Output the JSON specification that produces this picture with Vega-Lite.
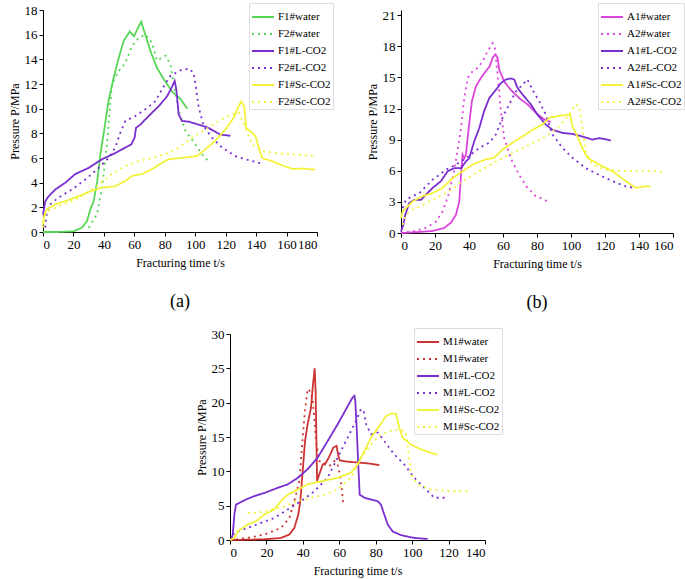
{
  "$schema": "https://vega.github.io/schema/vega-lite/v6.json",
  "padding": {"left": 8, "top": 2, "right": 4, "bottom": 5},
  "background": "white",
  "config": {
    "font": "Liberation Serif, Times New Roman, serif",
    "view": {"stroke": null},
    "axis": {"grid": false, "domainColor": "black", "tickColor": "black", "labelColor": "black", "titleColor": "black", "labelFont": "Liberation Serif, Times New Roman, serif", "titleFont": "Liberation Serif, Times New Roman, serif", "labelFontSize": 13, "titleFontSize": 12, "titleFontWeight": "normal", "tickSize": 4, "labelPadding": 2, "domainWidth": 1, "labelOverlap": false},
    "axisX": {"titlePadding": 6},
    "axisY": {"titlePadding": 3},
    "legend": {"symbolType": "stroke", "symbolSize": 484, "symbolStrokeWidth": 2, "labelFont": "Liberation Serif, Times New Roman, serif", "labelFontSize": 11, "labelColor": "black", "strokeColor": "#dddddd", "padding": 2, "rowPadding": -5, "labelOffset": 3},
    "title": {"font": "Liberation Serif, Times New Roman, serif", "fontSize": 18, "fontWeight": "normal", "color": "black", "orient": "bottom", "offset": 25, "frame": "group"},
    "line": {"strokeWidth": 1.8, "strokeCap": "butt"}
  },
  "datasets": {
    "a": [
      {"s":"F1#water","t":0,"p":0},{"s":"F1#water","t":10,"p":0},{"s":"F1#water","t":20,"p":0.05},{"s":"F1#water","t":25.6,"p":0.35},{"s":"F1#water","t":29,"p":0.9},{"s":"F1#water","t":31,"p":1.8},{"s":"F1#water","t":33.3,"p":2.5},{"s":"F1#water","t":35.6,"p":4.1},{"s":"F1#water","t":37.7,"p":6.3},{"s":"F1#water","t":40.5,"p":8.5},{"s":"F1#water","t":43,"p":10.6},{"s":"F1#water","t":46.4,"p":12.5},{"s":"F1#water","t":49.7,"p":14.1},{"s":"F1#water","t":53,"p":15.5},{"s":"F1#water","t":57,"p":16.25},{"s":"F1#water","t":59.8,"p":15.87},{"s":"F1#water","t":61.8,"p":16.4},{"s":"F1#water","t":64.5,"p":17.05},{"s":"F1#water","t":67.2,"p":16.0},{"s":"F1#water","t":70.5,"p":14.7},{"s":"F1#water","t":74.9,"p":13.3},{"s":"F1#water","t":79.3,"p":12.4},{"s":"F1#water","t":84.7,"p":11.4},{"s":"F1#water","t":90.2,"p":10.8},{"s":"F1#water","t":94.8,"p":10.0},
      {"s":"F2#water","t":30,"p":0.35},{"s":"F2#water","t":35.5,"p":1.45},{"s":"F2#water","t":38.8,"p":3.6},{"s":"F2#water","t":42,"p":7.1},{"s":"F2#water","t":45.3,"p":12.0},{"s":"F2#water","t":49.7,"p":13.05},{"s":"F2#water","t":54.1,"p":13.7},{"s":"F2#water","t":58.5,"p":15.1},{"s":"F2#water","t":62.9,"p":15.75},{"s":"F2#water","t":67.3,"p":16.0},{"s":"F2#water","t":71.6,"p":15.35},{"s":"F2#water","t":74.9,"p":13.9},{"s":"F2#water","t":80.4,"p":14.3},{"s":"F2#water","t":83.7,"p":13.6},{"s":"F2#water","t":85.9,"p":12.0},{"s":"F2#water","t":89.2,"p":9.8},{"s":"F2#water","t":93.6,"p":8.2},{"s":"F2#water","t":100.1,"p":7.1},{"s":"F2#water","t":104.5,"p":6.3},{"s":"F2#water","t":108.9,"p":5.7},
      {"s":"F1#L-CO2","t":0,"p":1.4},{"s":"F1#L-CO2","t":1.5,"p":2.5},{"s":"F1#L-CO2","t":3.7,"p":2.9},{"s":"F1#L-CO2","t":8.1,"p":3.45},{"s":"F1#L-CO2","t":14.7,"p":4.0},{"s":"F1#L-CO2","t":21.2,"p":4.7},{"s":"F1#L-CO2","t":30,"p":5.2},{"s":"F1#L-CO2","t":38.8,"p":5.9},{"s":"F1#L-CO2","t":47.5,"p":6.4},{"s":"F1#L-CO2","t":54.1,"p":6.85},{"s":"F1#L-CO2","t":58,"p":7.1},{"s":"F1#L-CO2","t":60.2,"p":7.65},{"s":"F1#L-CO2","t":61.1,"p":8.45},{"s":"F1#L-CO2","t":63.9,"p":8.7},{"s":"F1#L-CO2","t":69.4,"p":9.4},{"s":"F1#L-CO2","t":76,"p":10.2},{"s":"F1#L-CO2","t":81.5,"p":11.0},{"s":"F1#L-CO2","t":84.7,"p":11.75},{"s":"F1#L-CO2","t":86.5,"p":12.25},{"s":"F1#L-CO2","t":87.6,"p":11.55},{"s":"F1#L-CO2","t":89.1,"p":9.55},{"s":"F1#L-CO2","t":91.3,"p":9.0},{"s":"F1#L-CO2","t":95.7,"p":8.95},{"s":"F1#L-CO2","t":102.3,"p":8.7},{"s":"F1#L-CO2","t":107.7,"p":8.5},{"s":"F1#L-CO2","t":112.1,"p":8.2},{"s":"F1#L-CO2","t":116.5,"p":7.9},{"s":"F1#L-CO2","t":123.1,"p":7.8},
      {"s":"F2#L-CO2","t":1.5,"p":0.35},{"s":"F2#L-CO2","t":2.6,"p":1.7},{"s":"F2#L-CO2","t":4.8,"p":2.25},{"s":"F2#L-CO2","t":10.3,"p":2.8},{"s":"F2#L-CO2","t":19,"p":3.45},{"s":"F2#L-CO2","t":27.8,"p":4.25},{"s":"F2#L-CO2","t":36.6,"p":5.2},{"s":"F2#L-CO2","t":43.1,"p":6.0},{"s":"F2#L-CO2","t":47.5,"p":6.85},{"s":"F2#L-CO2","t":50.8,"p":8.05},{"s":"F2#L-CO2","t":54.1,"p":9.0},{"s":"F2#L-CO2","t":60.7,"p":9.4},{"s":"F2#L-CO2","t":67.2,"p":9.95},{"s":"F2#L-CO2","t":73.8,"p":10.6},{"s":"F2#L-CO2","t":79.3,"p":11.8},{"s":"F2#L-CO2","t":83.6,"p":12.65},{"s":"F2#L-CO2","t":90.2,"p":13.1},{"s":"F2#L-CO2","t":95.7,"p":13.25},{"s":"F2#L-CO2","t":99,"p":12.9},{"s":"F2#L-CO2","t":100.5,"p":11.7},{"s":"F2#L-CO2","t":102.3,"p":10.1},{"s":"F2#L-CO2","t":105.5,"p":8.6},{"s":"F2#L-CO2","t":111,"p":7.65},{"s":"F2#L-CO2","t":117.6,"p":6.85},{"s":"F2#L-CO2","t":126.3,"p":6.15},{"s":"F2#L-CO2","t":137.3,"p":5.75},{"s":"F2#L-CO2","t":143.9,"p":5.55},
      {"s":"F1#Sc-CO2","t":0,"p":0.6},{"s":"F1#Sc-CO2","t":0.9,"p":1.4},{"s":"F1#Sc-CO2","t":2.6,"p":1.85},{"s":"F1#Sc-CO2","t":8.1,"p":2.25},{"s":"F1#Sc-CO2","t":14.7,"p":2.5},{"s":"F1#Sc-CO2","t":23.4,"p":2.9},{"s":"F1#Sc-CO2","t":31.1,"p":3.3},{"s":"F1#Sc-CO2","t":38.8,"p":3.6},{"s":"F1#Sc-CO2","t":47.5,"p":3.7},{"s":"F1#Sc-CO2","t":54.1,"p":4.15},{"s":"F1#Sc-CO2","t":58.5,"p":4.55},{"s":"F1#Sc-CO2","t":65,"p":4.7},{"s":"F1#Sc-CO2","t":71.6,"p":5.1},{"s":"F1#Sc-CO2","t":78.2,"p":5.6},{"s":"F1#Sc-CO2","t":82.5,"p":5.9},{"s":"F1#Sc-CO2","t":90.2,"p":6.0},{"s":"F1#Sc-CO2","t":101.2,"p":6.15},{"s":"F1#Sc-CO2","t":106.6,"p":6.7},{"s":"F1#Sc-CO2","t":113.2,"p":7.4},{"s":"F1#Sc-CO2","t":119.8,"p":8.3},{"s":"F1#Sc-CO2","t":125.2,"p":9.25},{"s":"F1#Sc-CO2","t":128.5,"p":10.2},{"s":"F1#Sc-CO2","t":130.3,"p":10.6},{"s":"F1#Sc-CO2","t":132.3,"p":10.15},{"s":"F1#Sc-CO2","t":133.4,"p":8.45},{"s":"F1#Sc-CO2","t":137.3,"p":8.05},{"s":"F1#Sc-CO2","t":139.5,"p":7.8},{"s":"F1#Sc-CO2","t":141.7,"p":6.85},{"s":"F1#Sc-CO2","t":143.9,"p":6.0},{"s":"F1#Sc-CO2","t":150.4,"p":5.75},{"s":"F1#Sc-CO2","t":158.1,"p":5.35},{"s":"F1#Sc-CO2","t":164.7,"p":5.1},{"s":"F1#Sc-CO2","t":170.1,"p":5.15},{"s":"F1#Sc-CO2","t":178.9,"p":5.05},
      {"s":"F2#Sc-CO2","t":0,"p":0.35},{"s":"F2#Sc-CO2","t":1.5,"p":1.4},{"s":"F2#Sc-CO2","t":3.7,"p":1.7},{"s":"F2#Sc-CO2","t":10.3,"p":2.1},{"s":"F2#Sc-CO2","t":19,"p":2.5},{"s":"F2#Sc-CO2","t":27.8,"p":3.05},{"s":"F2#Sc-CO2","t":36.6,"p":3.85},{"s":"F2#Sc-CO2","t":45.3,"p":4.7},{"s":"F2#Sc-CO2","t":54.1,"p":5.35},{"s":"F2#Sc-CO2","t":62.8,"p":5.75},{"s":"F2#Sc-CO2","t":71.6,"p":6.0},{"s":"F2#Sc-CO2","t":80.4,"p":6.3},{"s":"F2#Sc-CO2","t":89.1,"p":6.85},{"s":"F2#Sc-CO2","t":97.9,"p":7.65},{"s":"F2#Sc-CO2","t":106.6,"p":8.3},{"s":"F2#Sc-CO2","t":115.4,"p":9.0},{"s":"F2#Sc-CO2","t":124.2,"p":9.55},{"s":"F2#Sc-CO2","t":128.5,"p":9.7},{"s":"F2#Sc-CO2","t":132.9,"p":8.45},{"s":"F2#Sc-CO2","t":137.3,"p":7.1},{"s":"F2#Sc-CO2","t":143.9,"p":6.55},{"s":"F2#Sc-CO2","t":152.6,"p":6.4},{"s":"F2#Sc-CO2","t":163.6,"p":6.3},{"s":"F2#Sc-CO2","t":180,"p":6.15}
    ],
    "b": [
      {"s":"A1#water","t":0,"p":0},{"s":"A1#water","t":10.8,"p":0.1},{"s":"A1#water","t":18.6,"p":0.2},{"s":"A1#water","t":25.5,"p":0.5},{"s":"A1#water","t":29.4,"p":1.0},{"s":"A1#water","t":32.3,"p":1.75},{"s":"A1#water","t":34.3,"p":3.05},{"s":"A1#water","t":35.3,"p":5.6},{"s":"A1#water","t":36.2,"p":7.55},{"s":"A1#water","t":37.2,"p":7.2},{"s":"A1#water","t":38.2,"p":7.55},{"s":"A1#water","t":39.8,"p":10.1},{"s":"A1#water","t":41.7,"p":12.7},{"s":"A1#water","t":44.1,"p":14.15},{"s":"A1#water","t":47,"p":14.95},{"s":"A1#water","t":49.9,"p":15.6},{"s":"A1#water","t":52.3,"p":16.1},{"s":"A1#water","t":53.9,"p":16.9},{"s":"A1#water","t":55.4,"p":17.2},{"s":"A1#water","t":56.8,"p":16.9},{"s":"A1#water","t":57.8,"p":15.75},{"s":"A1#water","t":60.7,"p":14.6},{"s":"A1#water","t":64.6,"p":13.8},{"s":"A1#water","t":69.5,"p":13.0},{"s":"A1#water","t":74.4,"p":12.4},{"s":"A1#water","t":79.3,"p":11.6},{"s":"A1#water","t":84.2,"p":10.95},{"s":"A1#water","t":88,"p":10.7},
      {"s":"A2#water","t":0,"p":0},{"s":"A2#water","t":6.9,"p":0.15},{"s":"A2#water","t":14.7,"p":0.5},{"s":"A2#water","t":20.6,"p":1.1},{"s":"A2#water","t":24.5,"p":2.1},{"s":"A2#water","t":27.4,"p":3.4},{"s":"A2#water","t":30.4,"p":5.3},{"s":"A2#water","t":33.3,"p":7.9},{"s":"A2#water","t":35.3,"p":10.1},{"s":"A2#water","t":37.2,"p":13.0},{"s":"A2#water","t":39.2,"p":14.95},{"s":"A2#water","t":42.1,"p":15.6},{"s":"A2#water","t":45,"p":15.9},{"s":"A2#water","t":48,"p":16.55},{"s":"A2#water","t":50.9,"p":17.5},{"s":"A2#water","t":53.9,"p":18.3},{"s":"A2#water","t":55.2,"p":17.85},{"s":"A2#water","t":56.8,"p":15.3},{"s":"A2#water","t":58.8,"p":11.7},{"s":"A2#water","t":60.7,"p":9.15},{"s":"A2#water","t":64.6,"p":7.2},{"s":"A2#water","t":69.5,"p":5.6},{"s":"A2#water","t":74.4,"p":4.35},{"s":"A2#water","t":79.3,"p":3.55},{"s":"A2#water","t":83.2,"p":3.3},{"s":"A2#water","t":87.2,"p":2.95},
      {"s":"A1#L-CO2","t":0,"p":0.15},{"s":"A1#L-CO2","t":1.4,"p":0.8},{"s":"A1#L-CO2","t":2.5,"p":1.75},{"s":"A1#L-CO2","t":4.9,"p":2.9},{"s":"A1#L-CO2","t":7.8,"p":3.2},{"s":"A1#L-CO2","t":11.8,"p":3.2},{"s":"A1#L-CO2","t":14.7,"p":3.7},{"s":"A1#L-CO2","t":18.6,"p":4.35},{"s":"A1#L-CO2","t":23.5,"p":5.0},{"s":"A1#L-CO2","t":27.4,"p":5.95},{"s":"A1#L-CO2","t":31.3,"p":6.25},{"s":"A1#L-CO2","t":35.3,"p":6.25},{"s":"A1#L-CO2","t":38.2,"p":6.9},{"s":"A1#L-CO2","t":40.1,"p":7.2},{"s":"A1#L-CO2","t":43.1,"p":8.85},{"s":"A1#L-CO2","t":46,"p":10.1},{"s":"A1#L-CO2","t":48.9,"p":11.75},{"s":"A1#L-CO2","t":51.9,"p":13.0},{"s":"A1#L-CO2","t":55.8,"p":13.8},{"s":"A1#L-CO2","t":58.8,"p":14.45},{"s":"A1#L-CO2","t":61.7,"p":14.8},{"s":"A1#L-CO2","t":64.6,"p":14.9},{"s":"A1#L-CO2","t":66.6,"p":14.8},{"s":"A1#L-CO2","t":68.5,"p":14.0},{"s":"A1#L-CO2","t":71.5,"p":13.35},{"s":"A1#L-CO2","t":76.4,"p":12.4},{"s":"A1#L-CO2","t":80.3,"p":11.4},{"s":"A1#L-CO2","t":85.2,"p":10.45},{"s":"A1#L-CO2","t":89.1,"p":9.95},{"s":"A1#L-CO2","t":95,"p":9.65},{"s":"A1#L-CO2","t":100.9,"p":9.55},{"s":"A1#L-CO2","t":106.7,"p":9.3},{"s":"A1#L-CO2","t":112.6,"p":9.0},{"s":"A1#L-CO2","t":116.5,"p":9.15},{"s":"A1#L-CO2","t":121.4,"p":9.0},{"s":"A1#L-CO2","t":123.4,"p":8.9},
      {"s":"A2#L-CO2","t":1,"p":2.4},{"s":"A2#L-CO2","t":2.9,"p":3.2},{"s":"A2#L-CO2","t":6.9,"p":3.55},{"s":"A2#L-CO2","t":10.8,"p":3.85},{"s":"A2#L-CO2","t":14.7,"p":4.5},{"s":"A2#L-CO2","t":18.6,"p":5.15},{"s":"A2#L-CO2","t":22.5,"p":5.6},{"s":"A2#L-CO2","t":26.4,"p":6.1},{"s":"A2#L-CO2","t":32.3,"p":6.6},{"s":"A2#L-CO2","t":38.2,"p":7.2},{"s":"A2#L-CO2","t":46,"p":8.2},{"s":"A2#L-CO2","t":51.9,"p":8.7},{"s":"A2#L-CO2","t":55.8,"p":9.5},{"s":"A2#L-CO2","t":59.7,"p":11.1},{"s":"A2#L-CO2","t":63.6,"p":12.4},{"s":"A2#L-CO2","t":67.6,"p":13.65},{"s":"A2#L-CO2","t":71.5,"p":14.3},{"s":"A2#L-CO2","t":74.4,"p":14.8},{"s":"A2#L-CO2","t":77.4,"p":13.8},{"s":"A2#L-CO2","t":81.3,"p":12.7},{"s":"A2#L-CO2","t":85.2,"p":11.4},{"s":"A2#L-CO2","t":89.1,"p":9.5},{"s":"A2#L-CO2","t":95,"p":8.2},{"s":"A2#L-CO2","t":100.9,"p":7.25},{"s":"A2#L-CO2","t":108.7,"p":6.25},{"s":"A2#L-CO2","t":116.5,"p":5.6},{"s":"A2#L-CO2","t":124.4,"p":5.0},{"s":"A2#L-CO2","t":132.2,"p":4.5},{"s":"A2#L-CO2","t":137.1,"p":4.35},
      {"s":"A1#Sc-CO2","t":0,"p":1.45},{"s":"A1#Sc-CO2","t":1,"p":2.1},{"s":"A1#Sc-CO2","t":2.9,"p":2.4},{"s":"A1#Sc-CO2","t":6.9,"p":3.05},{"s":"A1#Sc-CO2","t":12.7,"p":3.55},{"s":"A1#Sc-CO2","t":18.6,"p":3.85},{"s":"A1#Sc-CO2","t":24.5,"p":4.35},{"s":"A1#Sc-CO2","t":30.4,"p":5.3},{"s":"A1#Sc-CO2","t":36.2,"p":5.95},{"s":"A1#Sc-CO2","t":42.1,"p":6.6},{"s":"A1#Sc-CO2","t":49.9,"p":7.1},{"s":"A1#Sc-CO2","t":54.8,"p":7.25},{"s":"A1#Sc-CO2","t":59.7,"p":8.05},{"s":"A1#Sc-CO2","t":65.6,"p":8.7},{"s":"A1#Sc-CO2","t":71.5,"p":9.3},{"s":"A1#Sc-CO2","t":77.4,"p":9.95},{"s":"A1#Sc-CO2","t":83.2,"p":10.45},{"s":"A1#Sc-CO2","t":87.2,"p":11.1},{"s":"A1#Sc-CO2","t":91.1,"p":11.25},{"s":"A1#Sc-CO2","t":96,"p":11.35},{"s":"A1#Sc-CO2","t":99.5,"p":11.4},{"s":"A1#Sc-CO2","t":100.9,"p":10.3},{"s":"A1#Sc-CO2","t":103.8,"p":9.3},{"s":"A1#Sc-CO2","t":106.7,"p":8.2},{"s":"A1#Sc-CO2","t":109.7,"p":7.25},{"s":"A1#Sc-CO2","t":116.5,"p":6.6},{"s":"A1#Sc-CO2","t":124.4,"p":5.95},{"s":"A1#Sc-CO2","t":132.2,"p":5.0},{"s":"A1#Sc-CO2","t":138.1,"p":4.35},{"s":"A1#Sc-CO2","t":143.9,"p":4.5},{"s":"A1#Sc-CO2","t":146.9,"p":4.5},
      {"s":"A2#Sc-CO2","t":1,"p":0.8},{"s":"A2#Sc-CO2","t":2.9,"p":1.75},{"s":"A2#Sc-CO2","t":6.9,"p":2.25},{"s":"A2#Sc-CO2","t":12.7,"p":2.7},{"s":"A2#Sc-CO2","t":20.6,"p":3.35},{"s":"A2#Sc-CO2","t":28.4,"p":4.0},{"s":"A2#Sc-CO2","t":36.2,"p":5.0},{"s":"A2#Sc-CO2","t":46,"p":5.95},{"s":"A2#Sc-CO2","t":55.8,"p":6.9},{"s":"A2#Sc-CO2","t":65.6,"p":7.7},{"s":"A2#Sc-CO2","t":75.4,"p":8.5},{"s":"A2#Sc-CO2","t":85.2,"p":9.3},{"s":"A2#Sc-CO2","t":93,"p":10.3},{"s":"A2#Sc-CO2","t":98.9,"p":11.4},{"s":"A2#Sc-CO2","t":102.8,"p":12.4},{"s":"A2#Sc-CO2","t":104.8,"p":12.2},{"s":"A2#Sc-CO2","t":106.7,"p":10.1},{"s":"A2#Sc-CO2","t":108.7,"p":7.9},{"s":"A2#Sc-CO2","t":112.6,"p":6.6},{"s":"A2#Sc-CO2","t":120.4,"p":6.1},{"s":"A2#Sc-CO2","t":130.2,"p":5.95},{"s":"A2#Sc-CO2","t":140,"p":6.0},{"s":"A2#Sc-CO2","t":149.8,"p":5.95},{"s":"A2#Sc-CO2","t":154.7,"p":5.8}
    ],
    "c": [
      {"s":"M1#water|1","t":0,"p":0},{"s":"M1#water|1","t":18.9,"p":0.1},{"s":"M1#water|1","t":28,"p":0.3},{"s":"M1#water|1","t":32.6,"p":0.8},{"s":"M1#water|1","t":35.3,"p":1.75},{"s":"M1#water|1","t":37.5,"p":3.7},{"s":"M1#water|1","t":38.6,"p":5.65},{"s":"M1#water|1","t":39.9,"p":10.0},{"s":"M1#water|1","t":41.2,"p":14.4},{"s":"M1#water|1","t":42.6,"p":16.85},{"s":"M1#water|1","t":44.5,"p":19.3},{"s":"M1#water|1","t":45.4,"p":22.2},{"s":"M1#water|1","t":46.5,"p":25.0},{"s":"M1#water|1","t":47.0,"p":21.7},{"s":"M1#water|1","t":47.8,"p":8.6},{"s":"M1#water|1","t":49,"p":9.55},{"s":"M1#water|1","t":50.9,"p":11.0},{"s":"M1#water|1","t":52.7,"p":11.25},{"s":"M1#water|1","t":54.2,"p":12.0},{"s":"M1#water|1","t":55.5,"p":12.7},{"s":"M1#water|1","t":56.7,"p":13.45},{"s":"M1#water|1","t":58.5,"p":13.7},{"s":"M1#water|1","t":59.5,"p":12.2},{"s":"M1#water|1","t":60.3,"p":11.6},{"s":"M1#water|1","t":64.6,"p":11.4},{"s":"M1#water|1","t":71.9,"p":11.25},{"s":"M1#water|1","t":77.4,"p":11.1},{"s":"M1#water|1","t":82,"p":10.9},
      {"s":"M1#water|2","t":0,"p":0},{"s":"M1#water|2","t":9.7,"p":0.3},{"s":"M1#water|2","t":18.9,"p":0.8},{"s":"M1#water|2","t":28,"p":1.75},{"s":"M1#water|2","t":32.6,"p":3.2},{"s":"M1#water|2","t":35.3,"p":5.65},{"s":"M1#water|2","t":38.1,"p":8.6},{"s":"M1#water|2","t":39.9,"p":14.9},{"s":"M1#water|2","t":41.2,"p":19.0},{"s":"M1#water|2","t":42.7,"p":22.0},{"s":"M1#water|2","t":44.5,"p":21.5},{"s":"M1#water|2","t":45.4,"p":20.25},{"s":"M1#water|2","t":46.3,"p":17.8},{"s":"M1#water|2","t":47.2,"p":14.4},{"s":"M1#water|2","t":49,"p":11.5},{"s":"M1#water|2","t":51.8,"p":11.0},{"s":"M1#water|2","t":54.5,"p":10.75},{"s":"M1#water|2","t":57.3,"p":11.5},{"s":"M1#water|2","t":59.1,"p":11.0},{"s":"M1#water|2","t":60.6,"p":9.05},{"s":"M1#water|2","t":61.5,"p":7.1},{"s":"M1#water|2","t":62.2,"p":5.15},
      {"s":"M1#L-CO2|1","t":0.5,"p":0},{"s":"M1#L-CO2|1","t":1.5,"p":0.8},{"s":"M1#L-CO2|1","t":2.4,"p":3.7},{"s":"M1#L-CO2|1","t":3.3,"p":5.15},{"s":"M1#L-CO2|1","t":5.1,"p":5.4},{"s":"M1#L-CO2|1","t":8.8,"p":5.9},{"s":"M1#L-CO2|1","t":13.4,"p":6.4},{"s":"M1#L-CO2|1","t":18.9,"p":6.85},{"s":"M1#L-CO2|1","t":26.2,"p":7.6},{"s":"M1#L-CO2|1","t":31.7,"p":8.1},{"s":"M1#L-CO2|1","t":37.2,"p":9.05},{"s":"M1#L-CO2|1","t":42.6,"p":10.3},{"s":"M1#L-CO2|1","t":48.1,"p":12.0},{"s":"M1#L-CO2|1","t":53.6,"p":14.4},{"s":"M1#L-CO2|1","t":59.1,"p":16.85},{"s":"M1#L-CO2|1","t":63.7,"p":19.05},{"s":"M1#L-CO2|1","t":67.3,"p":20.75},{"s":"M1#L-CO2|1","t":68.3,"p":21.0},{"s":"M1#L-CO2|1","t":68.8,"p":20.25},{"s":"M1#L-CO2|1","t":69.7,"p":15.4},{"s":"M1#L-CO2|1","t":70.5,"p":10.5},{"s":"M1#L-CO2|1","t":71.2,"p":6.6},{"s":"M1#L-CO2|1","t":73.8,"p":6.15},{"s":"M1#L-CO2|1","t":77.4,"p":5.9},{"s":"M1#L-CO2|1","t":81.1,"p":5.65},{"s":"M1#L-CO2|1","t":82.9,"p":5.15},{"s":"M1#L-CO2|1","t":84.7,"p":3.7},{"s":"M1#L-CO2|1","t":86.6,"p":2.25},{"s":"M1#L-CO2|1","t":89.3,"p":1.25},{"s":"M1#L-CO2|1","t":93.9,"p":0.7},{"s":"M1#L-CO2|1","t":101.2,"p":0.3},{"s":"M1#L-CO2|1","t":108.5,"p":0.15},
      {"s":"M1#L-CO2|2","t":1.5,"p":0.8},{"s":"M1#L-CO2|2","t":4.2,"p":1.25},{"s":"M1#L-CO2|2","t":9.7,"p":1.75},{"s":"M1#L-CO2|2","t":17,"p":2.5},{"s":"M1#L-CO2|2","t":24.3,"p":3.2},{"s":"M1#L-CO2|2","t":31.7,"p":4.45},{"s":"M1#L-CO2|2","t":39,"p":5.65},{"s":"M1#L-CO2|2","t":46.3,"p":7.1},{"s":"M1#L-CO2|2","t":53.6,"p":9.05},{"s":"M1#L-CO2|2","t":59.1,"p":12.0},{"s":"M1#L-CO2|2","t":64.6,"p":14.9},{"s":"M1#L-CO2|2","t":69.2,"p":17.35},{"s":"M1#L-CO2|2","t":71.9,"p":19.05},{"s":"M1#L-CO2|2","t":73.4,"p":18.8},{"s":"M1#L-CO2|2","t":74.7,"p":16.85},{"s":"M1#L-CO2|2","t":77.4,"p":15.4},{"s":"M1#L-CO2|2","t":81.1,"p":15.65},{"s":"M1#L-CO2|2","t":84.7,"p":14.4},{"s":"M1#L-CO2|2","t":90.2,"p":12.45},{"s":"M1#L-CO2|2","t":95.7,"p":11.0},{"s":"M1#L-CO2|2","t":101.2,"p":9.05},{"s":"M1#L-CO2|2","t":106.7,"p":7.6},{"s":"M1#L-CO2|2","t":112.2,"p":6.15},{"s":"M1#L-CO2|2","t":116.8,"p":6.15},{"s":"M1#L-CO2|2","t":119.5,"p":6.25},
      {"s":"M1#Sc-CO2|1","t":0,"p":0},{"s":"M1#Sc-CO2|1","t":2.4,"p":0.3},{"s":"M1#Sc-CO2|1","t":4.2,"p":1.25},{"s":"M1#Sc-CO2|1","t":6.95,"p":1.75},{"s":"M1#Sc-CO2|1","t":9.7,"p":2.25},{"s":"M1#Sc-CO2|1","t":14.3,"p":2.75},{"s":"M1#Sc-CO2|1","t":18.9,"p":3.7},{"s":"M1#Sc-CO2|1","t":24.3,"p":4.45},{"s":"M1#Sc-CO2|1","t":28,"p":5.65},{"s":"M1#Sc-CO2|1","t":31.7,"p":6.6},{"s":"M1#Sc-CO2|1","t":37.2,"p":7.35},{"s":"M1#Sc-CO2|1","t":42.6,"p":8.1},{"s":"M1#Sc-CO2|1","t":49.9,"p":8.55},{"s":"M1#Sc-CO2|1","t":59.1,"p":9.05},{"s":"M1#Sc-CO2|1","t":66.4,"p":9.8},{"s":"M1#Sc-CO2|1","t":70.1,"p":11.0},{"s":"M1#Sc-CO2|1","t":73.8,"p":12.95},{"s":"M1#Sc-CO2|1","t":77.4,"p":14.9},{"s":"M1#Sc-CO2|1","t":82,"p":16.6},{"s":"M1#Sc-CO2|1","t":85.7,"p":18.05},{"s":"M1#Sc-CO2|1","t":88.4,"p":18.4},{"s":"M1#Sc-CO2|1","t":91.1,"p":18.4},{"s":"M1#Sc-CO2|1","t":93,"p":16.35},{"s":"M1#Sc-CO2|1","t":94.8,"p":14.9},{"s":"M1#Sc-CO2|1","t":99.4,"p":13.9},{"s":"M1#Sc-CO2|1","t":104.9,"p":13.2},{"s":"M1#Sc-CO2|1","t":110.4,"p":12.7},{"s":"M1#Sc-CO2|1","t":113.7,"p":12.45},
      {"s":"M1#Sc-CO2|2","t":9.7,"p":3.95},{"s":"M1#Sc-CO2|2","t":15.2,"p":3.95},{"s":"M1#Sc-CO2|2","t":22.5,"p":4.45},{"s":"M1#Sc-CO2|2","t":29.8,"p":4.9},{"s":"M1#Sc-CO2|2","t":37.2,"p":5.65},{"s":"M1#Sc-CO2|2","t":44.5,"p":6.15},{"s":"M1#Sc-CO2|2","t":51.8,"p":6.6},{"s":"M1#Sc-CO2|2","t":59.1,"p":7.35},{"s":"M1#Sc-CO2|2","t":66.4,"p":9.05},{"s":"M1#Sc-CO2|2","t":71.9,"p":12.0},{"s":"M1#Sc-CO2|2","t":77.4,"p":13.9},{"s":"M1#Sc-CO2|2","t":82.9,"p":15.4},{"s":"M1#Sc-CO2|2","t":88.4,"p":15.9},{"s":"M1#Sc-CO2|2","t":93.9,"p":16.1},{"s":"M1#Sc-CO2|2","t":96.6,"p":15.65},{"s":"M1#Sc-CO2|2","t":97.9,"p":12.95},{"s":"M1#Sc-CO2|2","t":99.4,"p":9.55},{"s":"M1#Sc-CO2|2","t":103,"p":8.1},{"s":"M1#Sc-CO2|2","t":110.4,"p":7.35},{"s":"M1#Sc-CO2|2","t":121.3,"p":7.1},{"s":"M1#Sc-CO2|2","t":132.3,"p":7.1}
    ]
  },
  "vconcat": [
    {
      "hconcat": [
        {
          "width": 274, "height": 222,
          "title": {"text": "(a)"},
          "data": {"name": "a"},
          "mark": {"type": "line"},
          "encoding": {
            "x": {"field": "t", "type": "quantitative", "scale": {"domain": [0, 180]}, "axis": {"title": "Fracturing time t/s", "values": [0,20,40,60,80,100,120,140,160,180]}},
            "y": {"field": "p", "type": "quantitative", "scale": {"domain": [0, 18]}, "axis": {"title": "Pressure P/MPa", "values": [0,2,4,6,8,10,12,14,16,18]}},
            "color": {"field": "s", "type": "nominal", "scale": {"domain": ["F1#water","F2#water","F1#L-CO2","F2#L-CO2","F1#Sc-CO2","F2#Sc-CO2"], "range": ["#55d655","#55d655","#7a2ed0","#7a2ed0","#f2f23a","#f2f23a"]},
              "legend": {"title": null, "orient": "none", "legendX": 206, "legendY": -7}},
            "strokeDash": {"field": "s", "type": "nominal", "scale": {"domain": ["F1#water","F2#water","F1#L-CO2","F2#L-CO2","F1#Sc-CO2","F2#Sc-CO2"], "range": [[1,0],[2,4],[1,0],[2,4],[1,0],[2,4]]},
              "legend": {"title": null, "orient": "none", "legendX": 206, "legendY": -7}}
          }
        },
        {
          "width": 272, "height": 223,
          "title": {"text": "(b)"},
          "data": {"name": "b"},
          "mark": {"type": "line"},
          "encoding": {
            "x": {"field": "t", "type": "quantitative", "scale": {"domain": [0, 160]}, "axis": {"title": "Fracturing time t/s", "values": [0,20,40,60,80,100,120,140,160]}},
            "y": {"field": "p", "type": "quantitative", "scale": {"domain": [0, 21.5]}, "axis": {"title": "Pressure P/MPa", "values": [0,3,6,9,12,15,18,21]}},
            "color": {"field": "s", "type": "nominal", "scale": {"domain": ["A1#water","A2#water","A1#L-CO2","A2#L-CO2","A1#Sc-CO2","A2#Sc-CO2"], "range": ["#dc45dc","#dc45dc","#7a2ed0","#7a2ed0","#f2f23a","#f2f23a"]},
              "legend": {"title": null, "orient": "none", "legendX": 197, "legendY": -7}},
            "strokeDash": {"field": "s", "type": "nominal", "scale": {"domain": ["A1#water","A2#water","A1#L-CO2","A2#L-CO2","A1#Sc-CO2","A2#Sc-CO2"], "range": [[1,0],[2,4],[1,0],[2,4],[1,0],[2,4]]},
              "legend": {"title": null, "orient": "none", "legendX": 197, "legendY": -7}}
          }
        }
      ],
      "spacing": 32,
      "resolve": {"scale": {"color": "independent", "strokeDash": "independent"}, "legend": {"color": "independent", "strokeDash": "independent"}}
    },
    {
      "hconcat": [
        {"width": 144, "height": 10, "data": {"values": []}, "mark": {"type": "point", "opacity": 0}},
        {
          "width": 255, "height": 206,
          "data": {"name": "c"},
          "mark": {"type": "line"},
          "encoding": {
            "x": {"field": "t", "type": "quantitative", "scale": {"domain": [0, 140]}, "axis": {"title": "Fracturing time t/s", "values": [0,20,40,60,80,100,120,140]}},
            "y": {"field": "p", "type": "quantitative", "scale": {"domain": [0, 30]}, "axis": {"title": "Pressure P/MPa", "values": [0,5,10,15,20,25,30]}},
            "color": {"field": "s", "type": "nominal", "scale": {"domain": ["M1#water|1","M1#water|2","M1#L-CO2|1","M1#L-CO2|2","M1#Sc-CO2|1","M1#Sc-CO2|2"], "range": ["#cc3333","#cc3333","#7a2ed0","#7a2ed0","#f2f23a","#f2f23a"]},
              "legend": {"title": null, "orient": "none", "legendX": 184, "legendY": -6, "labelExpr": "split(datum.label, '|')[0]"}},
            "strokeDash": {"field": "s", "type": "nominal", "scale": {"domain": ["M1#water|1","M1#water|2","M1#L-CO2|1","M1#L-CO2|2","M1#Sc-CO2|1","M1#Sc-CO2|2"], "range": [[1,0],[2,4],[1,0],[2,4],[1,0],[2,4]]},
              "legend": {"title": null, "orient": "none", "legendX": 184, "legendY": -6, "labelExpr": "split(datum.label, '|')[0]"}}
          }
        }
      ],
      "spacing": 8,
      "resolve": {"scale": {"color": "independent", "strokeDash": "independent"}, "legend": {"color": "independent", "strokeDash": "independent"}}
    }
  ],
  "spacing": 15,
  "resolve": {"scale": {"color": "independent", "strokeDash": "independent"}, "legend": {"color": "independent", "strokeDash": "independent"}}
}
